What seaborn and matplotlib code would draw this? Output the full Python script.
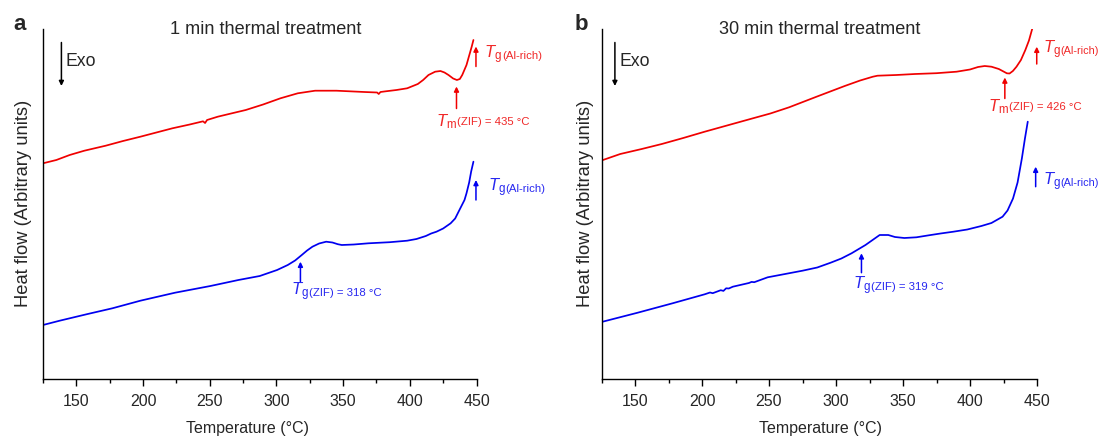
import matplotlib
matplotlib.use("Agg")
import matplotlib.pyplot as plt
from matplotlib.ticker import MultipleLocator
import seaborn as sns

sns.set_style("white")
plt.rcParams["font.family"] = ["Liberation Sans", "DejaVu Sans"]
plt.rcParams["mathtext.fontset"] = "custom"
plt.rcParams["mathtext.rm"] = "Liberation Sans"
plt.rcParams["mathtext.it"] = "Liberation Sans:italic"

# ---- DSC traces (temperature in °C, heat flow in arbitrary units) ----
red_a_T = [125, 135, 145, 156, 172, 185, 198, 210, 222, 235, 245, 246.5, 248, 256,
           266, 277, 290, 303, 316, 329, 345, 366, 375.5, 376.7, 378, 382, 390, 398,
           406, 410, 414, 419, 423, 426, 429, 432.5, 435.3, 437.5, 439.3, 442.5,
           446.4, 447.7]
red_a_h = [215.2, 218.5, 223.5, 227.8, 232.8, 237.5, 241.8, 246, 250.2, 254, 257.2,
           255.5, 258.5, 261.8, 265, 268.5, 274, 280.2, 285.2, 287.8, 287.8, 286.5,
           286, 284.5, 286.5, 287.2, 288.5, 290.2, 294.5, 298.5, 303.5, 306.8, 307.5,
           306, 303.5, 300, 298.5, 299.5, 303.5, 313.5, 331.8, 338.5]

blue_a_T = [125, 137.5, 158.5, 177, 198, 224, 250.5, 271.5, 287.5, 300.5, 308.5, 314,
            319, 323, 327, 332, 337.3, 342, 346, 349, 358, 369, 385, 398, 405, 412,
            416, 420, 425, 430.6, 434, 437.2, 441, 442.5, 444.5, 446, 447.7]
blue_a_h = [53.5, 57.8, 64.5, 70.2, 77.8, 85.8, 92.5, 98.5, 102.5, 108.5, 113.5, 118,
            123.5, 128, 131.8, 135, 136.8, 136, 134.3, 133.5, 134, 135.2, 136.3, 137.8,
            139.5, 142.5, 145, 146.8, 150, 155.2, 160, 168.5, 178.5, 185.2, 196, 207,
            216.8]

red_b_T = [125, 139, 155, 170, 186, 202, 220, 238, 251, 265, 285.5, 306.5, 318, 327.5,
           331, 345, 359, 375, 390, 400, 406, 411, 416, 421.5, 425, 427.5, 429.5, 432,
           434.7, 438, 441.3, 444, 446.5]
red_b_h = [218, 224.5, 229.5, 234.5, 240.5, 246.8, 253.5, 260.2, 265, 271.2, 281.8,
           292.5, 298, 301.8, 302.8, 303.5, 304.5, 305.3, 306.8, 309, 311.5, 312.5,
           311.8, 309.5, 307, 305.2, 305, 307.5, 311.8, 318.5, 328.5, 338, 350]

blue_b_T = [125, 152, 178, 202, 206, 208, 214, 216, 218, 220, 223, 235, 237, 239, 249,
            262, 275, 286, 296, 304, 311.6, 322, 332.6, 339, 344, 351, 360, 369.3, 378,
            387.6, 398, 408.5, 416, 424.3, 428, 432.1, 435.5, 438.7, 441, 443.1]
blue_b_h = [56.5, 65.8, 75.2, 84.2, 86, 85.3, 88.3, 87.6, 90.2, 90, 91.8, 95.5, 96.6,
            96.3, 101.2, 104.5, 107.8, 111, 115.8, 120, 125.2, 133.5, 143.5, 143.5,
            141.5, 140.5, 141.2, 143.2, 145, 146.8, 149, 152.5, 155.5, 161.8, 168,
            180, 196, 220, 240, 256.8]

titles = ["1 min thermal treatment", "30 min thermal treatment"]
panel_tags = ["a", "b"]
tm_values = [435, 426]
tg_zif_values = [318, 319]

RED = "#f00000"
BLUE = "#0000f0"
RED_TXT = "#f02828"
BLUE_TXT = "#2828f0"

W, H = 1099, 437
fig = plt.figure(figsize=(W / 100, H / 100), dpi=100)

axes_px = [(43, 433.5), (601.5, 435.5)]
top_px, bottom_px = 29, 378.5


def t_label(ax, x, y, sub, rest, color, rest_size=8.2):
    t = ax.text(x, y, rf"$T_{{\mathrm{{{sub}}}}}$", color=color, fontsize=12,
                ha="left", va="baseline", clip_on=False)
    ax.annotate(rest, xy=(1.0, 0.22), xycoords=t, color=color, fontsize=rest_size,
                ha="left", va="bottom", annotation_clip=False)


def up_arrow(ax, x, y0, y1, color):
    ax.annotate("", xy=(x, y1), xytext=(x, y0),
                arrowprops=dict(arrowstyle="-|>", color=color, lw=1.1,
                                mutation_scale=7, shrinkA=0, shrinkB=0),
                annotation_clip=False)


curves = [((red_a_T, red_a_h), (blue_a_T, blue_a_h)),
          ((red_b_T, red_b_h), (blue_b_T, blue_b_h))]

# annotation layout per panel
tm_arrow = [(270, 292), (280, 301)]
tm_text = [(419.8, 252.5), (413.8, 266.8)]
red_tg_arrow = [(449.6, 312, 332), (449.8, 314.5, 331.8)]
red_tg_text = [(455.6, 320.2), (454.3, 325.2)]
blue_tg_arrow = [(449.6, 178.5, 198.5), (449.0, 191.8, 211.8)]
blue_tg_text = [(458.5, 186.8), (454.3, 193.5)]
al_rest_size = [8.2, 7.8]
zif_arrow = [(96.8, 116.8), (105.8, 125.2)]
zif_text = [(311.3, 83.5), (312.8, 89.2)]
exo_x = [138.8, 135.0]
ylabel_x = [-0.025, -0.017]
xlabel_x = [0.471, 0.502]

for i in range(2):
    left, width = axes_px[i]
    ax = fig.add_axes([left / W, 1 - bottom_px / H, width / W, (bottom_px - top_px) / H])
    (rT, rh), (bT, bh) = curves[i]
    sns.lineplot(x=rT, y=rh, ax=ax, color=RED, lw=1.25, sort=False, estimator=None)
    sns.lineplot(x=bT, y=bh, ax=ax, color=BLUE, lw=1.25, sort=False, estimator=None)

    ax.set_xlim(125, 450)
    ax.set_ylim(0, 349.5)
    ax.xaxis.set_minor_locator(MultipleLocator(25))
    ax.set_xticks([150, 200, 250, 300, 350, 400, 450])
    ax.set_yticks([])
    ax.tick_params(axis="x", which="major", direction="out", length=5, width=1,
                   color="black", labelsize=11.5, pad=6, bottom=True)
    ax.tick_params(axis="x", which="minor", direction="out", length=3, width=1,
                   color="black", bottom=True)
    for s in ["top", "right"]:
        ax.spines[s].set_visible(False)
    for s in ["left", "bottom"]:
        ax.spines[s].set_color("black")
        ax.spines[s].set_linewidth(1.0)

    ax.set_xlabel("Temperature (°C)", fontsize=11.5)
    ax.xaxis.set_label_coords(xlabel_x[i], -0.121)
    ax.set_ylabel("Heat flow (Arbitrary units)", fontsize=13.2)
    ax.yaxis.set_label_coords(ylabel_x[i], 0.5)

    # Exo direction marker
    ax.annotate("", xy=(exo_x[i], 292.5), xytext=(exo_x[i], 336),
                arrowprops=dict(arrowstyle="-|>", color="black", lw=1.1,
                                mutation_scale=7, shrinkA=0, shrinkB=0))
    ax.text(exo_x[i] + 3.2, 317.5, "Exo", fontsize=12.7, ha="left", va="center")

    # melting of the ZIF phase
    up_arrow(ax, tm_values[i], tm_arrow[i][0], tm_arrow[i][1], RED)
    t_label(ax, tm_text[i][0], tm_text[i][1], "m",
            f"(ZIF) = {tm_values[i]} °C", RED_TXT)

    # glass transition of the Al-rich phase
    x, y0, y1 = red_tg_arrow[i]
    up_arrow(ax, x, y0, y1, RED)
    t_label(ax, red_tg_text[i][0], red_tg_text[i][1], "g", "(Al-rich)", RED_TXT,
            al_rest_size[i])
    x, y0, y1 = blue_tg_arrow[i]
    up_arrow(ax, x, y0, y1, BLUE)
    t_label(ax, blue_tg_text[i][0], blue_tg_text[i][1], "g", "(Al-rich)", BLUE_TXT,
            al_rest_size[i])

    # glass transition of the ZIF phase
    up_arrow(ax, tg_zif_values[i], zif_arrow[i][0], zif_arrow[i][1], BLUE)
    t_label(ax, zif_text[i][0], zif_text[i][1], "g",
            f"(ZIF) = {tg_zif_values[i]} °C", BLUE_TXT)

title_x = [265.4, 819.8]
tag_x = [19.3, 581.6]
for i in range(2):
    fig.text(title_x[i] / W, 1 - 29.3 / H, titles[i], fontsize=13.1,
             ha="center", va="center")
    fig.text(tag_x[i] / W, 1 - 24 / H, panel_tags[i], fontsize=16,
             fontweight="bold", ha="center", va="center")

fig.savefig("out.png", dpi=100)
